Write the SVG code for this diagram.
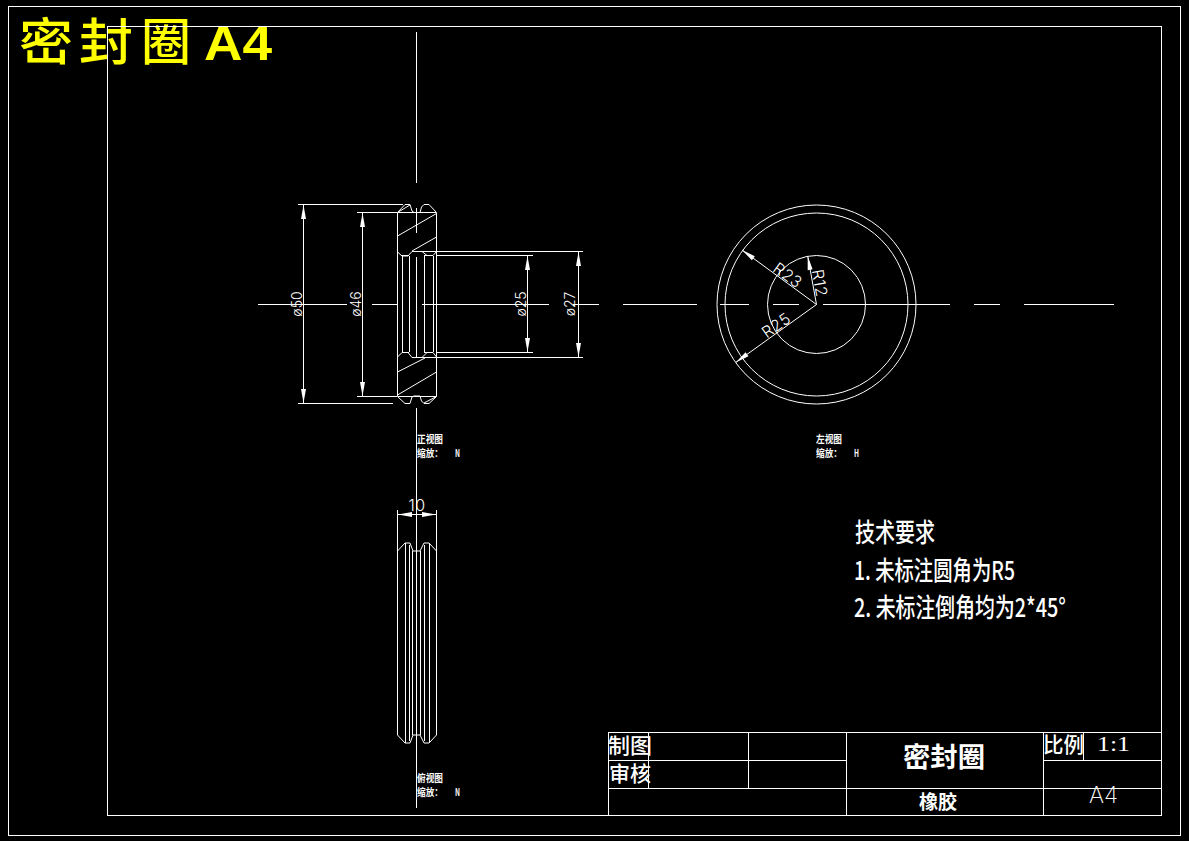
<svg xmlns="http://www.w3.org/2000/svg" width="1189" height="841" viewBox="0 0 1189 841">
<style>
.l{fill:none;stroke:#fff;stroke-width:1;shape-rendering:crispEdges}
.p{fill:none;stroke:#fff;stroke-width:1}
.h{fill:#fff;stroke:none}
.d{font-family:Inter,"Liberation Sans",sans-serif;font-weight:300;font-size:14px;fill:#fff}
.r{font-size:16px;letter-spacing:.5px}
.c{font-family:"Liberation Serif","Noto Sans CJK SC",serif;fill:#fff}
.t{font-family:"Noto Sans CJK SC",sans-serif;fill:#fff}
.v{font-family:"Noto Sans CJK SC",sans-serif;fill:#fff;font-weight:700;font-size:10px}
.y{font-family:"Noto Sans CJK SC",sans-serif;font-weight:500;fill:#ff0}
</style>
<defs>
<path id="ah" class="h" d="M0 0L-14 -2.5V2.5Z"/>
</defs>
<rect width="1189" height="841" fill="#000"/>
<g id="title">
<text class="y" x="19" y="60" font-size="50" textLength="54" lengthAdjust="spacingAndGlyphs">密</text>
<text class="y" x="79" y="60" font-size="50" textLength="54" lengthAdjust="spacingAndGlyphs">封</text>
<text class="y" x="141" y="60" font-size="50" textLength="50" lengthAdjust="spacingAndGlyphs">圈</text>
<text x="204" y="60" font-family="Liberation Sans,sans-serif" font-weight="700" font-size="49" fill="#ff0" textLength="68" lengthAdjust="spacingAndGlyphs">A4</text>
</g>
<g id="frames">
<rect class="l" x="8.5" y="6.5" width="1172" height="829"/>
<rect class="l" x="107.5" y="26.5" width="1054" height="789"/>
</g>
<g id="connectors">
<path class="l" d="M416.5 32V183M416.5 208V233M416.5 257V358M416.5 408V808"/>
<path class="l" d="M258 304.5H347M372 304.5H397M422 304.5H549M573 304.5H599M623 304.5H697M720 304.5H749M773 304.5H799M823 304.5H950M974 304.5H1000M1024 304.5H1114"/>
<path class="l" d="M298 204.5H403M298 403.5H393M357 212.5H397M357 396.5H397M420 251.5H583M420 357.5H583M437 255.5H533M437 352.5H533"/>
<path class="l" d="M303.5 205V403M362.5 213V396M527.5 256V352M578.5 252V357M397.5 510V551M436.5 510V551M398 514.5H436"/>
<use href="#ah" transform="translate(303.5 205) rotate(-90)"/>
<use href="#ah" transform="translate(303.5 403) rotate(90)"/>
<use href="#ah" transform="translate(362.5 213) rotate(-90)"/>
<use href="#ah" transform="translate(362.5 396) rotate(90)"/>
<use href="#ah" transform="translate(527.5 256) rotate(-90)"/>
<use href="#ah" transform="translate(527.5 352) rotate(90)"/>
<use href="#ah" transform="translate(578.5 252) rotate(-90)"/>
<use href="#ah" transform="translate(578.5 357) rotate(90)"/>
<use href="#ah" transform="translate(398 514.5) rotate(180)"/>
<use href="#ah" transform="translate(436 514.5)"/>
<path class="p" d="M816.5 304.5L742 250M816.5 304.5L807.7 256M816.5 304.5L735.7 362.5"/>
<use href="#ah" transform="translate(742 250) rotate(-144)"/>
<use href="#ah" transform="translate(807.7 256) rotate(-100)"/>
<use href="#ah" transform="translate(735.7 362.5) rotate(144)"/>
</g>
<g id="front-view">
<path class="l" d="M397.5 212.5V396M436.5 212.5V396"/>
<path class="p" d="M397.5 212.5L405 204.5H410L412 211L414 212.5H420L421.5 207L424 204.5H429L436.5 212.5M397.5 212.5H436.5M397.5 212.5L410 205"/>
<path class="p" d="M397.5 236L436.5 213.5M412 251L436.5 237"/>
<path class="p" d="M397.5 252L402 256H408L412 251.5H422L427 255.5H433L436.5 251.5"/>
<path class="l" d="M402.5 256V352M409.5 256V352M424.5 256V352M433.5 256V352M402 255.5H409M424 255.5H433M402 352.5H409M424 352.5H433"/>
<path class="p" d="M397.5 357L402 352.5H408L412 357.5H422L427 352.5H433L436.5 357"/>
<path class="p" d="M397.5 372L425 358M397.5 395L436.5 372"/>
<path class="p" d="M397.5 396.5L405 403.5H410L412 397L414 396H420L421.5 401L424 403.5H429L436.5 396.5M397.5 396.5H436.5M436.5 396.5L424 403"/>
</g>
<g id="side-view">
<path class="p" d="M397.5 551L405 543H410L413 551H420L424 543H429L436.5 551V735L429 743H424L420 735H413L410 743H405L397.5 735Z"/>
<path class="l" d="M405.5 543V743M409.5 545V741M412.5 551V735M420.5 551V735M424.5 545V741M429.5 543V743"/>
</g>
<g id="left-view">
<circle class="p" cx="816.5" cy="304.5" r="99.5"/>
<circle class="p" cx="816.5" cy="304.5" r="91.5"/>
<circle class="p" cx="816.5" cy="304.5" r="49"/>
</g>
<g id="dimension-labels">
<text class="d" transform="translate(302 304) rotate(-90)" text-anchor="middle">ø50</text>
<text class="d" transform="translate(360.5 304) rotate(-90)" text-anchor="middle">ø46</text>
<text class="d" transform="translate(525.5 304) rotate(-90)" text-anchor="middle">ø25</text>
<text class="d" transform="translate(575 304) rotate(-90)" text-anchor="middle">ø27</text>
<text class="d r" x="417" y="511" text-anchor="middle">10</text>
<text class="d r" transform="translate(788 275) rotate(36)" text-anchor="middle" dy="6">R23</text>
<text class="d r" transform="translate(820 283) rotate(80)" text-anchor="middle" dy="6">R12</text>
<text class="d r" transform="translate(776 325) rotate(-35)" text-anchor="middle" dy="6">R25</text>
</g>
<g id="view-labels">
<text class="v" x="417" y="443" textLength="26" lengthAdjust="spacingAndGlyphs">正视图</text>
<text class="v" x="417" y="457" textLength="26" lengthAdjust="spacingAndGlyphs">缩放：</text>
<text class="v" x="455" y="457" textLength="5" lengthAdjust="spacingAndGlyphs">N</text>
<text class="v" x="816" y="443" textLength="26" lengthAdjust="spacingAndGlyphs">左视图</text>
<text class="v" x="816" y="457" textLength="26" lengthAdjust="spacingAndGlyphs">缩放：</text>
<text class="v" x="854" y="457" textLength="5" lengthAdjust="spacingAndGlyphs">H</text>
<text class="v" x="417" y="782" textLength="26" lengthAdjust="spacingAndGlyphs">俯视图</text>
<text class="v" x="417" y="796" textLength="26" lengthAdjust="spacingAndGlyphs">缩放：</text>
<text class="v" x="455" y="796" textLength="5" lengthAdjust="spacingAndGlyphs">N</text>
</g>
<g id="notes">
<text class="t" x="855" y="542" font-size="26" font-weight="500" textLength="80" lengthAdjust="spacingAndGlyphs">技术要求</text>
<text class="t" x="854" y="580" font-size="26" font-weight="500" textLength="161" lengthAdjust="spacingAndGlyphs">1. 未标注圆角为R5</text>
<text class="t" x="854" y="617" font-size="26" font-weight="500" textLength="212" lengthAdjust="spacingAndGlyphs">2. 未标注倒角均为2*45°</text>
</g>
<g id="title-block">
<path class="l" d="M608.5 733V815M608 732.5H1162M608 760.5H846M1043 760.5H1162M608 788.5H1162M648.5 733V788M748.5 733V788M846.5 733V815M1043.5 733V815M1083.5 733V760"/>
<text class="t" x="608" y="753" font-size="21" font-weight="500" textLength="44" lengthAdjust="spacingAndGlyphs">制图</text>
<text class="t" x="609" y="781" font-size="21" font-weight="500" textLength="42" lengthAdjust="spacingAndGlyphs">审核</text>
<text class="t" x="1043" y="752" font-size="21" font-weight="500" textLength="41" lengthAdjust="spacingAndGlyphs">比例</text>
<text class="c" x="1097" y="751" font-size="20" textLength="33" lengthAdjust="spacingAndGlyphs">1:1</text>
<text class="t" x="903" y="767" font-size="27" font-weight="700" textLength="82" lengthAdjust="spacingAndGlyphs">密封圈</text>
<text class="t" x="919" y="809" font-size="19" font-weight="700" textLength="38" lengthAdjust="spacingAndGlyphs">橡胶</text>
<text class="d" x="1089" y="803" style="font-size:23px;font-weight:200" textLength="29" lengthAdjust="spacingAndGlyphs">A4</text>
</g>
</svg>
